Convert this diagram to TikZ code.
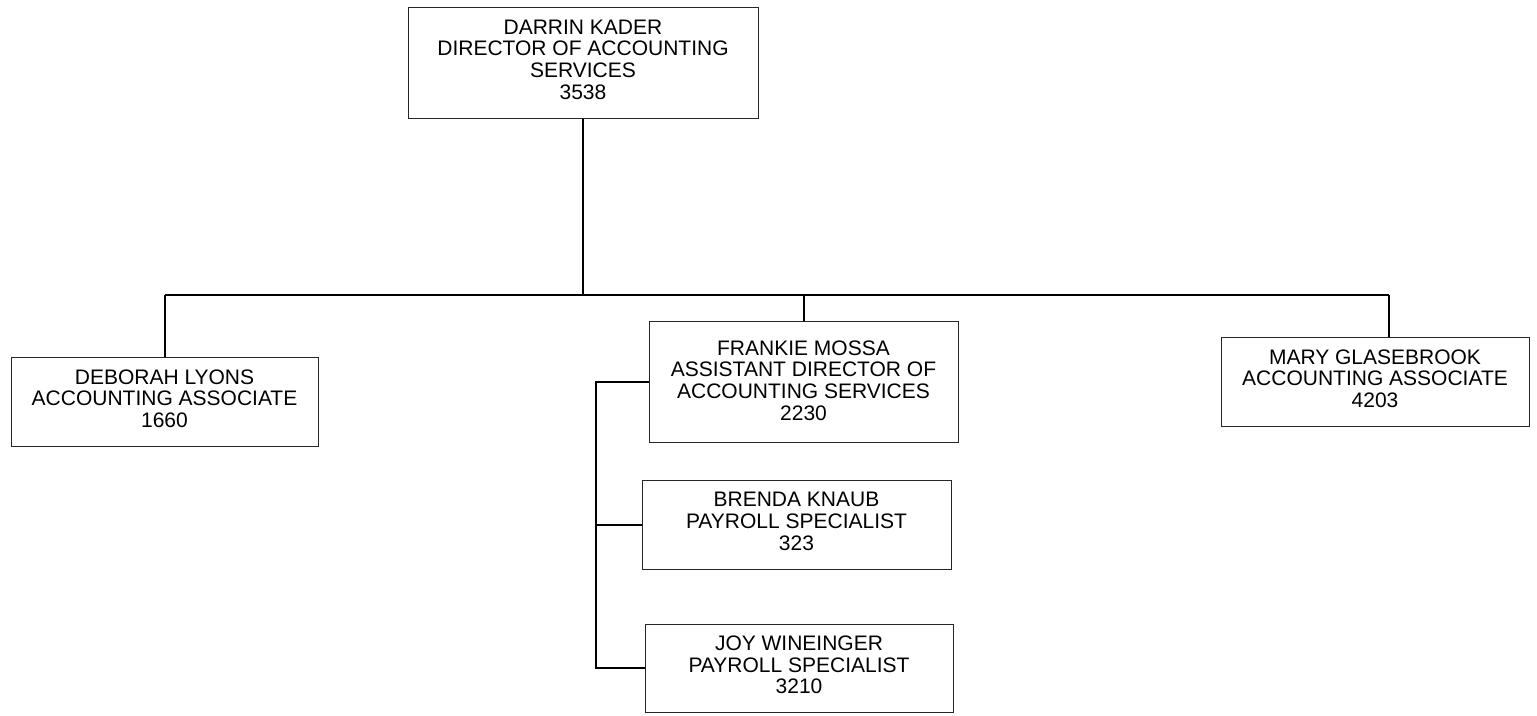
\documentclass[tikz,border=0pt]{standalone}
\usepackage{fontspec}
\setmainfont{Liberation Sans}
\begin{document}
\begin{tikzpicture}[x=1pt,y=-1pt,
  box/.style={draw=black!85,line width=1pt,rectangle,inner sep=0pt},
  txt/.style={inner sep=0pt,align=center,font=\fontsize{21}{21.7}\selectfont},
  link/.style={draw=black,line width=2pt}]
\useasboundingbox (0,0) rectangle (1537,715);
\node[box,minimum width=350pt,minimum height=111pt] (top) at (583,62.5) {};
\node[txt] (topt) at ([yshift=3pt]top.center)
  {DARRIN KADER\\DIRECTOR OF ACCOUNTING\\SERVICES\\3538};
\node[box,minimum width=307pt,minimum height=89pt] (deb) at (164.5,401.5) {};
\node[txt] (debt) at ([yshift=3pt]deb.center)
  {DEBORAH LYONS\\ACCOUNTING ASSOCIATE\\1660};
\node[box,minimum width=309pt,minimum height=121pt] (frank) at (803.5,381.5) {};
\node[txt] (frankt) at ([yshift=1pt]frank.center)
  {FRANKIE MOSSA\\ASSISTANT DIRECTOR OF\\ACCOUNTING SERVICES\\2230};
\node[box,minimum width=308pt,minimum height=89pt] (mary) at (1375,381.5) {};
\node[txt] (maryt) at ([yshift=3pt]mary.center)
  {MARY GLASEBROOK\\ACCOUNTING ASSOCIATE\\4203};
\node[box,minimum width=309pt,minimum height=89pt] (brenda) at (796.5,524.5) {};
\node[txt] (brendat) at ([yshift=3pt]brenda.center)
  {BRENDA KNAUB\\PAYROLL SPECIALIST\\323};
\node[box,minimum width=308pt,minimum height=88pt] (joy) at (799,668) {};
\node[txt] (joyt) at ([yshift=3pt]joy.center)
  {JOY WINEINGER\\PAYROLL SPECIALIST\\3210};
\coordinate (busL) at (165,295);
\coordinate (busR) at (1389,295);
\coordinate (side) at (596,381.5);
\draw[link] (busL) -- (busR);
\draw[link] (top.south) -- (top.south |- busL);
\draw[link] (busL) -- (busL |- deb.north);
\draw[link] (frank.north) -- (frank.north |- busL);
\draw[link] (busR) -- (busR |- mary.north);
\draw[link] (frank.west) -- (side) -- (side |- joy.west) -- (joy.west);
\draw[link] (side |- brenda.west) -- (brenda.west);
\end{tikzpicture}
\end{document}
